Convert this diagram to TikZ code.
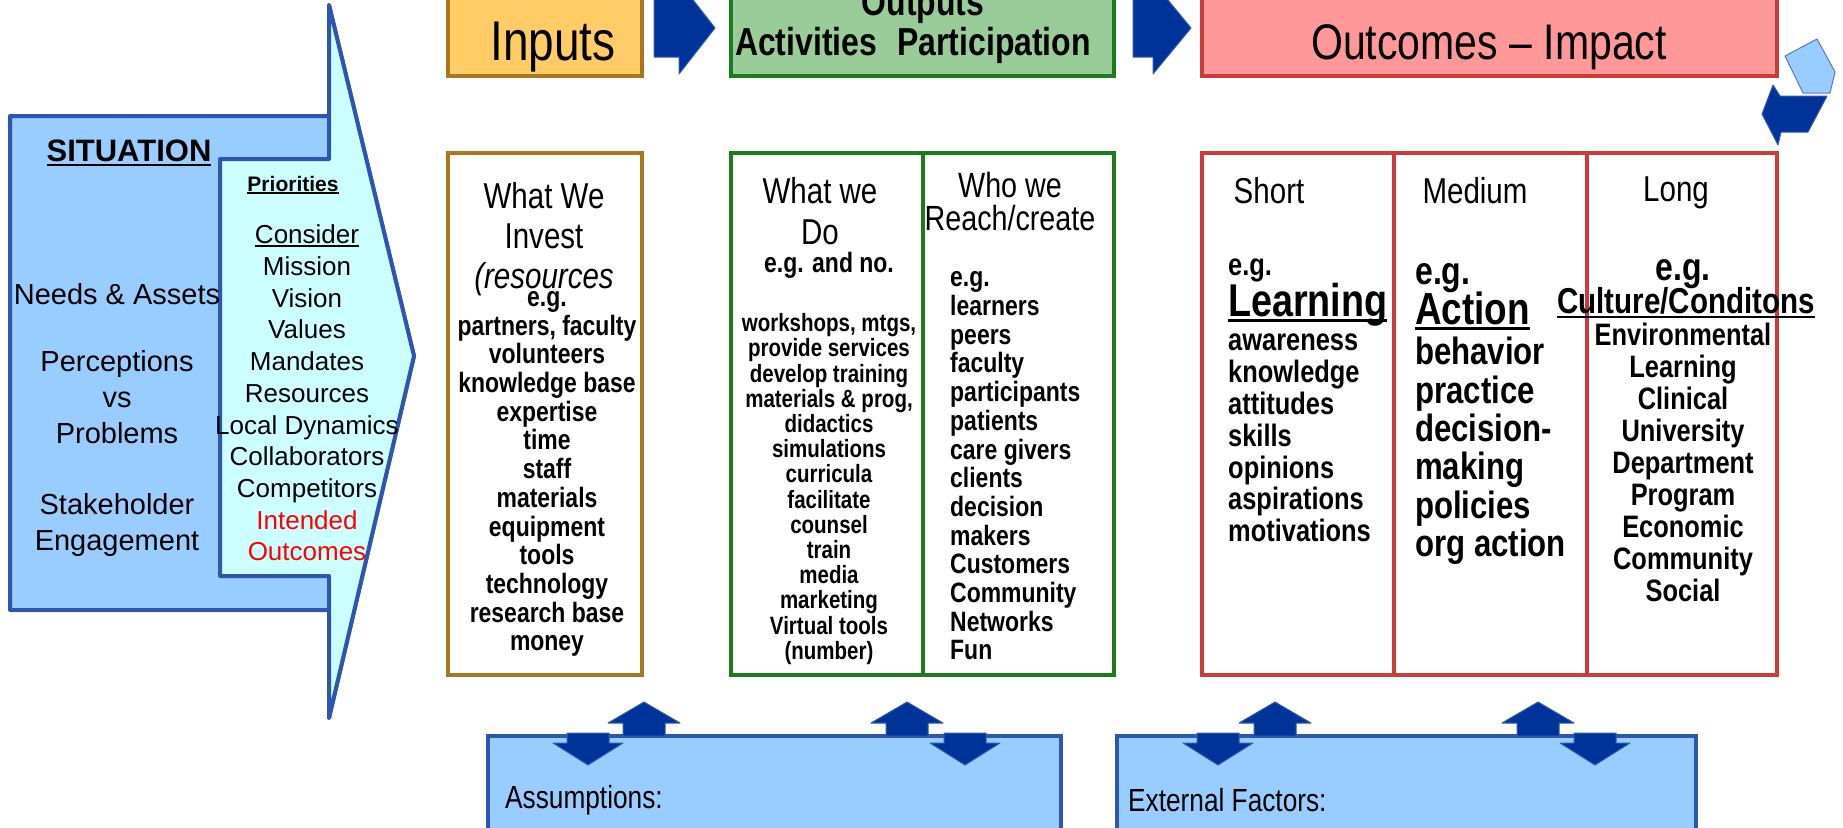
\documentclass[tikz,border=0pt]{standalone}
\usepackage{fontspec}
\setmainfont{Liberation Sans}
\newfontfamily\narrowsf[FakeStretch=0.82]{Liberation Sans}

\newcommand{\fsz}[2]{\fontsize{#1}{#2}\selectfont}
\newcommand{\undl}[1]{\setbox0=\hbox{#1}\rlap{\rule[-0.12em]{\wd0}{0.07em}}\box0}

\definecolor{inFill}{HTML}{FFCC66}
\definecolor{inLine}{HTML}{A8781E}
\definecolor{outFill}{HTML}{99CC99}
\definecolor{outLine}{HTML}{1E7A1E}
\definecolor{resFill}{HTML}{FF9999}
\definecolor{resLine}{HTML}{CC3A3A}
\definecolor{sitFill}{HTML}{99CCFF}
\definecolor{prioFill}{HTML}{CCFFFF}
\definecolor{sitLine}{HTML}{2E56B0}
\definecolor{arrBlue}{HTML}{003399}
\definecolor{intRed}{HTML}{FF0000}

\begin{document}
\begin{tikzpicture}[x=1pt, y=-1pt,
    inner sep=0pt,
    box/.style={line width=4pt},
    blockarrow/.style={fill=arrBlue, draw=arrBlue!80!white, line width=1pt, line join=round},
    hdrtext/.style={font=\narrowsf\fsz{50}{56}},
    coltitle/.style={font=\narrowsf\fsz{36}{40}, align=center},
    itemlist/.style={font=\narrowsf\bfseries\fsz{28}{28.7}, align=center},
    sittext/.style={font=\fsz{29}{36}, align=center}
]

% Cadre de l'image
\useasboundingbox (0,0) rectangle (1843,827);
\clip (0,0) rectangle (1843,827);

% Grande flèche Situation / Priorités
\draw[box, draw=sitLine, fill=sitFill, line join=round] (10,116) -- (329,116) -- (329,5) -- (414,356) -- (329,718) -- (329,610) -- (10,610) -- cycle;
\draw[box, draw=sitLine, fill=prioFill, line join=round] (220,159) -- (329,159) -- (329,5) -- (414,356) -- (329,718) -- (329,576) -- (220,576) -- cycle;

\node[font=\bfseries\fsz{31}{36}] (situation) at (129,153) {\undl{SITUATION}};
\node[sittext] (needs) at (117,294) {Needs \& Assets};
\node[sittext] (percep) at (117,397) {Perceptions\\vs\\Problems};
\node[sittext] (stake) at (117,525) {Stakeholder\\Engagement};

\node[font=\bfseries\fsz{21}{24}] (prio) at (293,185) {\undl{Priorities}};
\node[font=\fsz{26}{31.7}, align=center] (prioList) at (307,393) {\undl{Consider}\\Mission\\Vision\\Values\\Mandates\\Resources\\Local Dynamics\\Collaborators\\Competitors\\\textcolor{intRed}{Intended}\\\textcolor{intRed}{Outcomes}};

% Boîtes d'en-tête
\draw[box, draw=inLine, fill=inFill] (448,-10) rectangle (642,76);
\draw[box, draw=outLine, fill=outFill] (731,-10) rectangle (1114,76);
\draw[box, draw=resLine, fill=resFill] (1202,-10) rectangle (1777,76);

\node[hdrtext, font=\narrowsf\fsz{56}{60}, anchor=base] (inputs) at (553,60) {Inputs};
\node[font=\narrowsf\bfseries\fsz{39}{40}, anchor=base] (outputs) at (923,15) {Outputs};
\node[font=\narrowsf\bfseries\fsz{39}{40}, anchor=base] (activ) at (913,55) {Activities\hspace{20pt}Participation};
\node[hdrtext, anchor=base] (outcomes) at (1489,59) {Outcomes – Impact};

% Flèches entre les en-têtes
\draw[blockarrow] (654,-1) -- (679,-1) -- (679,-18) -- (715,28) -- (679,74) -- (679,57) -- (654,57) -- cycle;
\draw[blockarrow] (1133,-1) -- (1153,-1) -- (1153,-18) -- (1191,28) -- (1153,74) -- (1153,57) -- (1133,57) -- cycle;

% Flèches de retour (coin droit)
\draw[fill=sitFill, draw=sitLine!80!white, line width=1pt, line join=round] (1785,56) -- (1817,39) -- (1835,72) -- (1830,93) -- (1803,93) -- cycle;
\draw[blockarrow] (1773,85) -- (1780,96) -- (1827,96) -- (1808,132) -- (1781,132) -- (1778,145) -- (1762,114) -- cycle;

% Colonne Inputs
\draw[box, draw=inLine, fill=white] (448,153) rectangle (642,675);
\node[coltitle] (invest) at (544,239) {What We\\Invest\\\textit{(resources}};
\node[itemlist] (investList) at (547,474) {e.g.\\partners, faculty\\volunteers\\knowledge base\\expertise\\time\\staff\\materials\\equipment\\tools\\technology\\research base\\money};

% Colonnes Outputs
\draw[box, draw=outLine, fill=white] (731,153) rectangle (1114,675);
\draw[box, draw=outLine] (923,153) -- (923,675);
\node[coltitle, font=\narrowsf\fsz{36}{41}] (weDo) at (820,211) {What we\\Do};
\node[itemlist] (egNo) at (829,265) {e.g. and no.};
\node[itemlist, font=\narrowsf\bfseries\fsz{25}{25.2}] (doList) at (829,489) {workshops, mtgs,\\provide services\\develop training\\materials \& prog,\\didactics\\simulations\\curricula\\facilitate\\counsel\\train\\media\\marketing\\Virtual tools\\(number)};
\node[coltitle, font=\narrowsf\fsz{35}{33}] (weReach) at (1010,201) {Who we\\Reach/create};
\node[itemlist, align=left, anchor=west] (reachList) at (950,466) {e.g.\\learners\\peers\\faculty\\participants\\patients\\care givers\\clients\\decision\\makers\\Customers\\Community\\Networks\\Fun};

% Colonnes Outcomes
\draw[box, draw=resLine, fill=white] (1202,153) rectangle (1777,675);
\draw[box, draw=resLine] (1394,153) -- (1394,675);
\draw[box, draw=resLine] (1587,153) -- (1587,675);

\node[coltitle] (short) at (1269,191) {Short};
\node[coltitle] (medium) at (1475,191) {Medium};
\node[coltitle] (long) at (1676,193) {Long};

\node[font=\narrowsf\bfseries\fsz{31}{32}, anchor=west] (shortEg) at (1228,270) {e.g.};
\node[font=\narrowsf\bfseries\fsz{46}{50}, anchor=west] (learning) at (1228,305) {\undl{Learning}};
\node[font=\narrowsf\bfseries\fsz{31}{31.8}, anchor=west, align=left] (shortList) at (1228,438) {awareness\\knowledge\\attitudes\\skills\\opinions\\aspirations\\motivations};

\node[font=\narrowsf\bfseries\fsz{39}{40}, anchor=west] (mediumEg) at (1415,278) {e.g.};
\node[font=\narrowsf\bfseries\fsz{45}{50}, anchor=west] (action) at (1415,311) {\undl{Action}};
\node[font=\narrowsf\bfseries\fsz{38}{38.4}, anchor=west, align=left] (mediumList) at (1415,451) {behavior\\practice\\decision-\\making\\policies\\org action};

\node[font=\narrowsf\bfseries\fsz{39}{40}] (longEg) at (1683,274) {e.g.};
\node[font=\narrowsf\bfseries\fsz{36}{40}] (culture) at (1686,303) {\undl{Culture/Conditons}};
\node[font=\narrowsf\bfseries\fsz{31}{32}, align=center] (longList) at (1683,462) {Environmental\\Learning\\Clinical\\University\\Department\\Program\\Economic\\Community\\Social};

% Hypothèses et facteurs externes
\draw[box, draw=sitLine, fill=sitFill] (488,736) rectangle (1061,840);
\draw[box, draw=sitLine, fill=sitFill] (1117,736) rectangle (1696,840);
\node[font=\narrowsf\fsz{32}{36}, anchor=west] (assump) at (505,800) {Assumptions:};
\node[font=\narrowsf\fsz{32}{36}, anchor=west] (extern) at (1128,800) {External Factors:};

% Petites flèches haut / bas
\draw[blockarrow] (623,736) -- ++(0,-13) -- ++(-15,0) -- ++(36,-21) -- ++(36,21) -- ++(-15,0) -- ++(0,13) -- cycle;
\draw[blockarrow] (886,736) -- ++(0,-13) -- ++(-15,0) -- ++(36,-21) -- ++(36,21) -- ++(-15,0) -- ++(0,13) -- cycle;
\draw[blockarrow] (1254,736) -- ++(0,-13) -- ++(-15,0) -- ++(36,-21) -- ++(36,21) -- ++(-15,0) -- ++(0,13) -- cycle;
\draw[blockarrow] (1517,736) -- ++(0,-13) -- ++(-15,0) -- ++(36,-21) -- ++(36,21) -- ++(-15,0) -- ++(0,13) -- cycle;
\draw[blockarrow] (567,733) -- ++(42,0) -- ++(0,10) -- ++(14,0) -- ++(-35,22) -- ++(-35,-22) -- ++(14,0) -- cycle;
\draw[blockarrow] (944,733) -- ++(42,0) -- ++(0,10) -- ++(14,0) -- ++(-35,22) -- ++(-35,-22) -- ++(14,0) -- cycle;
\draw[blockarrow] (1197,733) -- ++(42,0) -- ++(0,10) -- ++(14,0) -- ++(-35,22) -- ++(-35,-22) -- ++(14,0) -- cycle;
\draw[blockarrow] (1574,733) -- ++(42,0) -- ++(0,10) -- ++(14,0) -- ++(-35,22) -- ++(-35,-22) -- ++(14,0) -- cycle;

\end{tikzpicture}
\end{document}
